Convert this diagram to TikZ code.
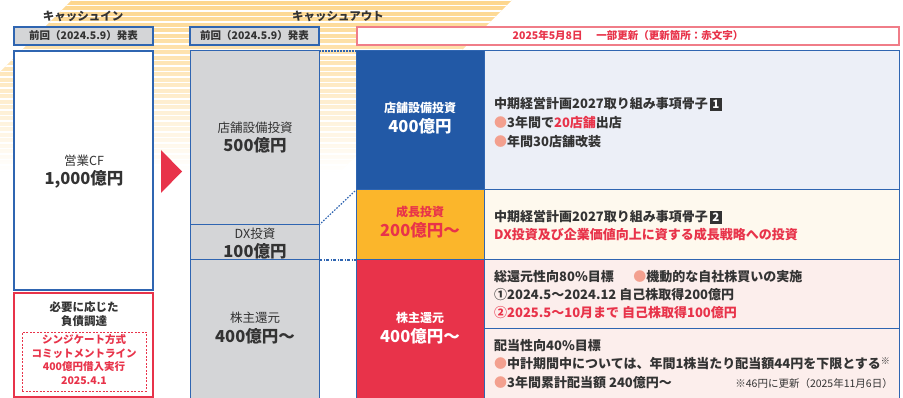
\documentclass[tikz,border=0pt]{standalone}
\usepackage{fontspec}
\setmainfont{Noto Sans CJK JP}
\definecolor{bordblue}{HTML}{2F65B1}
\definecolor{grayfill}{HTML}{D4D5D7}
\definecolor{darkblue}{HTML}{2259A6}
\definecolor{lightblue}{HTML}{ECEFF7}
\definecolor{orangebox}{HTML}{FBB62B}
\definecolor{cream}{HTML}{FEF9EE}
\definecolor{redbox}{HTML}{E8334A}
\definecolor{pinkfill}{HTML}{FCEEEC}
\definecolor{salmon}{HTML}{F3A08F}
\definecolor{txt}{HTML}{333333}
\definecolor{pinkline}{HTML}{F07D88}
\definecolor{bgor}{HTML}{FDD68C}
\newcommand\fsz[1]{\fontsize{#1pt}{#1pt}\selectfont}
\newcommand\bul{\textcolor{salmon}{●}}
\newcommand\numbox[1]{\hspace{2pt}{\setlength{\fboxsep}{0.5pt}\colorbox{txt}{\makebox[11pt]{\rule[-1.5pt]{0pt}{12pt}\textcolor{white}{\fsz{11.5}#1}}}}}
\begin{document}
\begin{tikzpicture}[x=1pt,y=-1pt,
  cell/.style={inner sep=0, outer sep=0, anchor=north west},
  prevbox/.style={cell, draw=bordblue, fill=grayfill, line width=1.2, font=\bfseries\fsz{10.5}, text=txt},
  graycell/.style={cell, draw=bordblue, fill=grayfill, line width=1},
  colcell/.style={cell, draw=bordblue, line width=1},
  lab/.style={inner sep=0, font=\bfseries\fsz{12}, text=txt},
  big/.style={inner sep=0, font=\bfseries\fsz{16.5}, text=txt},
  line/.style={inner sep=0, anchor=west, font=\bfseries\fsz{13}, text=txt},
  link/.style={bordblue, line width=1.2, dash pattern=on 1.5pt off 1.5pt}
]
\useasboundingbox (0,0) rectangle (903,398);
% background stripes
\begin{scope}
\clip (0,72) -- (72,0) -- (512,0) -- (340,172) -- (0,172) -- cycle;
\shade[top color=bgor, middle color=bgor!55, bottom color=white] (0,0) rectangle (520,172);
\foreach \yy in {0,5.5,...,172} \draw[white, line width=1.6] (0,\yy) -- (520,\yy);
\end{scope}
% headings
\node[inner sep=0, font=\bfseries\fsz{11.5}, text=txt] (hin) at (83,16) {キャッシュイン};
\node[inner sep=0, font=\bfseries\fsz{11.5}, text=txt] (hout) at (338,16) {キャッシュアウト};
\node[prevbox, minimum width=139, minimum height=18] (previn) at (14,27) {前回（2024.5.9）発表};
\node[prevbox, minimum width=129, minimum height=18] (prevout) at (190,27) {前回（2024.5.9）発表};
\node[cell, draw=pinkline, fill=white, line width=1.2, minimum width=542, minimum height=18, font=\bfseries\fsz{10.5}, text=redbox] (upd) at (357,27) {2025年5月8日\hspace{1.3em}一部更新（更新箇所：赤文字）};
% cash in
\node[cell, draw=bordblue, fill=white, line width=2.5, minimum width=139, minimum height=239] (cf) at (14,51) {};
\node[lab, font=\fsz{12.5}] (cft) at (84,161) {営業CF};
\node[big] (cfv) at (84,179) {1,000億円};
\node[cell, draw=redbox, fill=white, line width=2.5, minimum width=139, minimum height=104] (debt) at (14,293) {};
\node[lab, font=\bfseries\fsz{11.5}] (debt1) at (84,307) {必要に応じた};
\node[lab, font=\bfseries\fsz{11.5}] (debt2) at (84,321) {負債調達};
\node[cell, draw=redbox, dash pattern=on 2pt off 1.5pt, line width=0.8, minimum width=124, minimum height=59] (synd) at (22,332) {};
\node[lab, font=\bfseries\fsz{10.5}, text=redbox] (s1) at (84,340) {シンジケート方式};
\node[lab, font=\bfseries\fsz{10.5}, text=redbox] (s2) at (84,353.5) {コミットメントライン};
\node[lab, font=\bfseries\fsz{10.5}, text=redbox] (s3) at (84,367) {400億円借入実行};
\node[lab, font=\bfseries\fsz{10.5}, text=redbox] (s4) at (84,380.5) {2025.4.1};
% arrow
\fill[redbox] (161,150) -- (182,171.5) -- (161,193) -- cycle;
% previous cash out
\node[graycell, minimum width=129, minimum height=174] (g1) at (190,51) {};
\node[graycell, minimum width=129, minimum height=35] (g2) at (190,225) {};
\node[graycell, minimum width=129, minimum height=140] (g3) at (190,260) {};
\node[lab, font=\fsz{12.5}] (g1a) at (255,128) {店舗設備投資};
\node[big] (g1b) at (255,145.5) {500億円};
\node[lab, font=\fsz{12.5}] (g2a) at (255,233.5) {DX投資};
\node[big] (g2b) at (255,251) {100億円};
\node[lab, font=\fsz{12.5}] (g3a) at (255,318) {株主還元};
\node[big] (g3b) at (255,336) {400億円〜};
% new cash out
\node[colcell, fill=darkblue, minimum width=128, minimum height=139] (b1) at (356,51) {};
\node[colcell, fill=lightblue, minimum width=415, minimum height=139] (c1) at (484,51) {};
\node[colcell, fill=orangebox, minimum width=128, minimum height=70] (o1) at (356,190) {};
\node[colcell, fill=cream, minimum width=415, minimum height=70] (c2) at (484,190) {};
\node[colcell, fill=redbox, minimum width=128, minimum height=140] (r1) at (356,260) {};
\node[colcell, fill=pinkfill, minimum width=415, minimum height=69] (c3) at (484,260) {};
\node[colcell, fill=pinkfill, minimum width=415, minimum height=71] (c4) at (484,329) {};
% links
\draw[link] (g1.north east) -- (b1.north west);
\draw[link] (g1.south east) -- (o1.north west);
\draw[link, dash pattern=on 3pt off 1.5pt on 1pt off 1.5pt] (g2.south east) -- (r1.north west);
% labels of new boxes
\node[lab, font=\bfseries\fsz{12}, text=white] (b1a) at (420,108) {店舗設備投資};
\node[big, text=white] (b1b) at (420,126.5) {400億円};
\node[lab, font=\bfseries\fsz{12}, text=redbox] (o1a) at (420,212) {成長投資};
\node[big, text=redbox] (o1b) at (420,230) {200億円〜};
\node[lab, font=\bfseries\fsz{12}, text=white] (r1a) at (420,318) {株主還元};
\node[big, text=white] (r1b) at (420,336) {400億円〜};
% contents
\node[line] (l1) at (494,104) {中期経営計画2027取り組み事項骨子\numbox{1}};
\node[line] (l2) at (494,123) {\bul 3年間で\textcolor{redbox}{20店舗}出店};
\node[line] (l3) at (494,142) {\bul 年間30店舗改装};
\node[line] (l4) at (494,217) {中期経営計画2027取り組み事項骨子\numbox{2}};
\node[line, text=redbox] (l5) at (494,235) {DX投資及び企業価値向上に資する成長戦略への投資};
\node[line] (l6) at (494,277) {総還元性向80\%目標\hspace{1.5em}\bul 機動的な自社株買いの実施};
\node[line] (l7) at (494,295) {①2024.5〜2024.12 自己株取得200億円};
\node[line, text=redbox] (l8) at (494,313) {②2025.5〜10月まで 自己株取得100億円};
\node[line] (l9) at (494,346) {配当性向40\%目標};
\node[line] (l10) at (494,364) {\bul 中計期間中については、年間1株当たり配当額44円を下限とする\textsuperscript{※}};
\node[line] (l11) at (494,383) {\bul 3年間累計配当額 240億円〜};
\node[inner sep=0, anchor=east, font=\fsz{10.5}, text=txt] (note) at (893,384) {※46円に更新（2025年11月6日）};
\end{tikzpicture}
\end{document}
